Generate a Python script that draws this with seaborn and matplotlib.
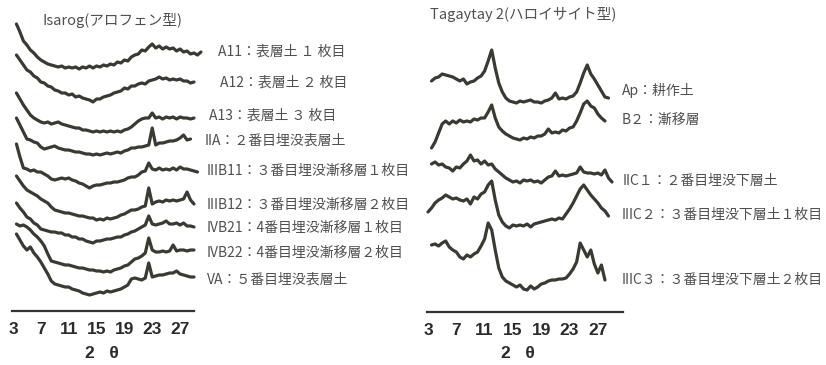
import numpy as np
import pandas as pd
import matplotlib
matplotlib.use("Agg")
import matplotlib.pyplot as plt
import seaborn as sns

sns.set_style("white")
plt.rcParams["font.family"] = ["Noto Sans CJK JP", "DejaVu Sans"]

STEP = 0.5  # scan step of the diffractograms (deg 2θ)

# ---------------- Isarog profile (allophane type) ----------------
A11 = [46, 38, 29, 25, 20, 17, 13, 10, 8, 6, 5, 4, 3, 4, 2, 3, 2, 3, 1, 3, 2, 4, 2, 4,
       3, 5, 4, 6, 5, 8, 7, 10, 9, 13, 15, 16, 20, 19, 23, 26, 22, 24, 21, 23, 21, 22,
       19, 21, 18, 19, 16, 17, 15, 18]
A12 = [50, 45, 40, 35, 33, 29, 27, 23, 22, 19, 18, 15, 14, 12, 12, 10, 11, 8, 9, 7, 6,
       5, 3, 6, 6, 8, 9, 10, 12, 13, 14, 17, 16, 19, 19, 21, 22, 21, 24, 25, 26, 28, 26,
       27, 25, 26, 25, 26, 24, 24, 22, 23]
A13 = [41, 35, 29, 24, 19, 16, 14, 12, 11, 12, 10, 11, 12, 10, 9, 8, 7, 6, 6, 4, 4, 3,
       2, 3, 2, 3, 2, 3, 2, 3, 2, 4, 5, 7, 10, 13, 15, 16, 16, 21, 16, 17, 15, 17, 16, 17,
       15, 17, 16, 16, 15, 16]
IIA = [40, 33, 26, 19, 18, 16, 15, 11, 9, 10, 11, 12, 10, 9, 8, 8, 7, 6, 6, 5, 4, 4, 3,
       4, 3, 4, 5, 4, 5, 6, 5, 7, 8, 10, 10, 11, 11, 12, 13, 30, 13, 15, 15, 16, 17, 17,
       18, 20, 23, 18, 19]
IIIB11 = [46, 33, 22, 21, 19, 20, 18, 18, 16, 14, 11, 10, 11, 12, 11, 12, 10, 9, 7, 6,
          4, 2, 4, 5, 5, 6, 7, 7, 8, 8, 9, 10, 12, 13, 13, 15, 18, 19, 27, 21, 20, 22, 20,
          21, 20, 22, 20, 23, 21, 21, 20, 19, 18]
IIIB12 = [47, 42, 37, 33, 31, 29, 27, 24, 22, 20, 16, 13, 12, 11, 10, 10, 9, 8, 7, 7, 6,
          5, 5, 3, 4, 3, 5, 4, 5, 6, 8, 9, 11, 13, 13, 14, 16, 17, 35, 19, 21, 22, 21, 23,
          22, 23, 22, 23, 24, 31, 23, 19]
IVB21 = [41, 36, 32, 27, 25, 21, 19, 15, 14, 13, 12, 12, 11, 11, 9, 9, 7, 7, 5, 5, 3, 2,
         1, 3, 3, 4, 5, 5, 6, 7, 7, 9, 10, 12, 13, 15, 17, 19, 28, 20, 19, 20, 21, 23, 20,
         20, 21, 19, 21, 18, 18, 17]
IVB22 = [50, 48, 49, 47, 44, 40, 37, 33, 28, 20, 13, 12, 11, 10, 9, 9, 8, 7, 6, 6, 5, 4,
         4, 3, 3, 2, 3, 2, 4, 5, 6, 8, 9, 12, 15, 16, 18, 21, 36, 24, 22, 22, 23, 22, 23,
         29, 23, 24, 24, 23, 24, 24]
VA = [64, 58, 52, 48, 51, 45, 41, 36, 30, 24, 17, 14, 13, 12, 11, 11, 9, 8, 7, 5, 4, 3,
      4, 5, 6, 5, 7, 6, 7, 8, 9, 11, 13, 19, 20, 19, 18, 20, 35, 21, 22, 23, 23, 24, 25,
      25, 27, 24, 23, 22, 21, 21]

isarog_series = [A11, A12, A13, IIA, IIIB11, IIIB12, IVB21, IVB22, VA]
isarog_start = [3.5] * 9
isarog_labels = ["A11：表層土 １ 枚目", "A12：表層土 ２ 枚目", "A13：表層土 ３ 枚目",
                 "IIA：２番目埋没表層土", "IIIB11：３番目埋没漸移層１枚目",
                 "IIIB12：３番目埋没漸移層２枚目", "IVB21：4番目埋没漸移層１枚目",
                 "IVB22：4番目埋没漸移層２枚目", "VA：５番目埋没表層土"]

# ---------------- Tagaytay 2 profile (halloysite type) ----------------
Ap = [24, 27, 28, 31, 30, 29, 28, 26, 24, 26, 21, 23, 24, 27, 29, 34, 44, 55, 37, 22,
      13, 7, 4, 3, 2, 4, 3, 4, 5, 3, 3, 2, 4, 5, 7, 12, 6, 7, 6, 8, 9, 13, 22, 32, 40,
      31, 26, 20, 14, 8, 7]
B2 = [0, 6, 15, 24, 27, 24, 27, 25, 28, 26, 27, 26, 29, 28, 30, 30, 36, 43, 30, 21, 17,
      14, 12, 10, 9, 8, 10, 9, 11, 10, 12, 12, 14, 19, 15, 16, 15, 18, 17, 20, 21, 27,
      35, 44, 47, 42, 40, 34, 30, 27]
IIC1 = [22, 24, 21, 22, 19, 18, 15, 19, 18, 22, 25, 31, 25, 26, 22, 25, 21, 22, 17, 14,
        11, 8, 6, 4, 5, 3, 6, 5, 6, 4, 5, 3, 6, 9, 10, 15, 10, 11, 10, 11, 12, 13, 19,
        14, 13, 13, 12, 13, 11, 16, 8, 4]
IIIC2 = [18, 22, 27, 30, 32, 35, 33, 31, 32, 30, 29, 31, 26, 33, 31, 36, 38, 45, 49, 30,
         15, 8, 4, 2, 5, 4, 5, 4, 6, 3, 6, 7, 8, 9, 10, 11, 10, 12, 11, 16, 21, 27, 34,
         41, 45, 40, 35, 31, 27, 22, 19, 14]
IIIC3 = [47, 48, 46, 49, 51, 45, 42, 40, 35, 33, 37, 35, 38, 40, 46, 53, 69, 62, 42, 24,
         15, 11, 9, 7, 5, 7, 3, 2, 6, 3, 5, 8, 9, 11, 12, 12, 13, 13, 14, 18, 23, 30, 49,
         42, 35, 42, 28, 19, 27, 12]

tagaytay_series = [Ap, B2, IIC1, IIIC2, IIIC3]
tagaytay_start = [3.5, 3.5, 3.5, 3.0, 3.5]
tagaytay_labels = ["Ap：耕作土", "B２：漸移層", "IIC１：２番目埋没下層土",
                   "IIIC２：３番目埋没下層土１枚目", "IIIC３：３番目埋没下層土２枚目"]

tick_values = [3, 7, 11, 15, 19, 23, 27]

# vertical stacking of the traces (baseline of each trace, in pixel rows from the top)
isarog_base = [70, 105, 134, 158, 190, 223, 244, 274, 298]
tagaytay_base = [105, 148, 186, 230, 292]

W, H = 826, 365
TRACE = "#3a3a32"
TEXT = "#505050"


def stacked_frame(series, starts, bases, top):
    rows = []
    for k, (vals, s, b) in enumerate(zip(series, starts, bases)):
        x = s + STEP * np.arange(len(vals))
        for xi, vi in zip(x, vals):
            rows.append({"two_theta": xi, "intensity": vi, "sample": k,
                         "y": top - b + vi})
    return pd.DataFrame(rows)


fig = plt.figure(figsize=(W / 100, H / 100), dpi=100)


def make_axes(rect_px, xlim, top):
    x0, y_axis, x1 = rect_px
    ax = fig.add_axes([x0 / W, (H - y_axis) / H, (x1 - x0) / W, y_axis / H])
    ax.set_xlim(*xlim)
    ax.set_ylim(0, top)
    for side in ("left", "right", "top"):
        ax.spines[side].set_visible(False)
    ax.spines["bottom"].set_linewidth(1.6)
    ax.spines["bottom"].set_color("#333333")
    ax.set_yticks([])
    ax.set_xticks(tick_values)
    ax.set_xticklabels([str(t) for t in tick_values])
    ax.tick_params(axis="x", direction="in", length=3, width=1.2,
                   color="#333333", pad=8, labelsize=12.5, labelcolor="#2b2b2b")
    for lbl in ax.get_xticklabels():
        lbl.set_fontfamily("Liberation Sans")
        lbl.set_fontweight("bold")
    return ax


axL = make_axes((12, 311, 194), (2.86, 29.0), 311)
axR = make_axes((427, 312, 623), (2.86, 30.55), 312)

dfL = stacked_frame(isarog_series, isarog_start, isarog_base, 311)
dfR = stacked_frame(tagaytay_series, tagaytay_start, tagaytay_base, 312)

for ax, df in ((axL, dfL), (axR, dfR)):
    sns.lineplot(data=df, x="two_theta", y="y", units="sample", estimator=None,
                 sort=False, color=TRACE, lw=2.3, ax=ax, legend=False)
    for ln in ax.lines:
        ln.set_clip_on(False)
        ln.set_solid_joinstyle("round")
    ax.set_xlabel("")
    ax.set_ylabel("")

# curve labels
isarog_label_pos = [(218, 52), (220, 83), (209, 116), (205, 141), (207, 171),
                    (207, 205), (207, 228), (207, 253), (207, 280)]
tagaytay_label_pos = [(622, 90), (622, 120), (623, 181), (622, 215), (622, 280)]

for text, (px, py) in zip(isarog_labels + tagaytay_labels,
                          isarog_label_pos + tagaytay_label_pos):
    fig.text(px / W, 1 - py / H, text, ha="left", va="center",
             fontsize=10, color=TEXT)

# profile titles
fig.text(42 / W, 1 - 20 / H, "Isarog(アロフェン型)", ha="left", va="center",
         fontsize=10.5, color=TEXT)
fig.text(430 / W, 1 - 15 / H, "Tagaytay 2(ハロイサイト型)", ha="left", va="center",
         fontsize=10.5, color=TEXT)

# x-axis titles
for cx in (102, 518):
    fig.text(cx / W, 1 - 353 / H, "2   θ", ha="center", va="center",
             fontsize=12.5, fontweight="bold", color="#2b2b2b",
             family=["Liberation Sans", "DejaVu Sans"])

fig.savefig("out.png", dpi=100, facecolor="white")
